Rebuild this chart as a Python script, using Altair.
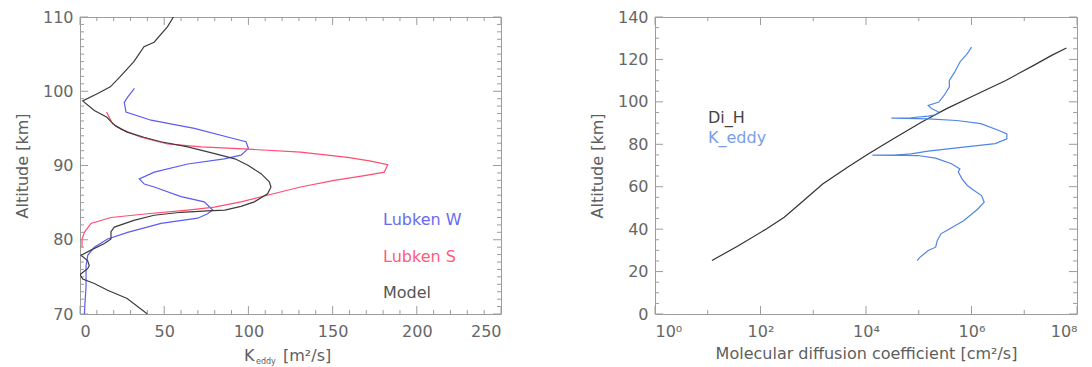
import altair as alt
import pandas as pd

FONT = "DejaVu Sans"
FRAME = "#9c9c9c"
TXT = "#5e5e5e"

# ---------------- Left panel: K_eddy [m^2/s] vs altitude [km] ----------------
model_k = [56, 52, 44, 38, 32, 24, 18, 10.5, 1.6, 8.5, 16, 18.4, 21.4, 28, 38, 48, 64, 80, 92, 100,
           107.5, 112.4, 113.4, 111.4, 103.5, 95.6, 86, 75.8, 60, 44, 32, 20.4, 18.4, 18.4, 14.5, 6.5,
           0.6, 4.5, 5.5, 4.5, 1.6, 0, 1.6, 8.5, 16.4, 28, 40]
model_alt = [110.2, 108.7, 106.6, 106, 104, 102, 100.6, 99.7, 98.7, 97.4, 96.5, 95.9, 95.3, 94.5, 93.8,
             93.2, 92.5, 91.6, 90.9, 90, 88.9, 87.8, 87.1, 86.2, 85.1, 84.5, 84.0, 83.9, 83.7, 83.3, 82.6,
             81.7, 81.1, 80.1, 79.5, 78.6, 77.9, 77.2, 76.5, 76.1, 75.6, 75.3, 74.7, 74.1, 73.2, 72.1, 70]

lubS_k = [15.8, 19.4, 24.3, 36.2, 52, 71.9, 100, 131, 159, 172.8, 182.7, 180.7, 170.8, 151, 131, 113,
          95.6, 79.8, 64, 40, 18.4, 6.5, 2.6, 1.2, 1.2]
lubS_alt = [97.2, 95.6, 94.9, 93.8, 92.9, 92.5, 92.2, 91.8, 91.1, 90.6, 90.1, 89.1, 88.7, 88.0, 87.1,
            86.1, 85.1, 84.4, 84.0, 83.5, 83.0, 82.2, 81.0, 80.1, 79.0]

lubW_k = [32.3, 28.3, 26.3, 27.3, 42.2, 67.9, 91.6, 98.6, 100, 95.6, 85.7, 64, 44.1, 35.2, 38.2, 44.1,
          60, 73.8, 78.8, 75.8, 69.9, 48.1, 28.3, 16.4, 8.5, 4.6, 3.6, 3.6, 3.0, 2.6]
lubW_alt = [100.4, 99.2, 98.5, 97.2, 96.1, 95.0, 93.6, 93.2, 92.3, 91.4, 90.9, 90.2, 89.1, 88.2, 87.5,
            87.1, 85.8, 85.1, 84.0, 83.5, 82.9, 82.2, 81.0, 80.1, 79.0, 77.9, 76.5, 73.8, 71.6, 70.0]

left_series = ["Lubken W", "Lubken S", "Model"]
left_colors = ["#5c5cf2", "#ff4d70", "#3c3c3c"]
left_label_colors = ["#6a6af2", "#ff5a7c", "#555555"]
left_xticks = [0, 50, 100, 150, 200, 250]
left_yticks = [70, 80, 90, 100, 110]

# ---------------- Right panel: diffusion coefficient [cm^2/s] vs altitude ----------------
dih_d = [12.0, 38, 129, 282, 603, 1510, 4470, 11200, 33100, 112000, 331000, 1.12e6, 4.47e6, 1.51e7,
         3.31e7, 6.3e7]
dih_alt = [25.2, 32.2, 40.1, 45.6, 52.7, 61.3, 69.2, 75.5, 82.6, 90.4, 96.7, 103.0, 110.1, 117.2,
           121.9, 125.4]

keddy_d = [93300, 105000, 151000, 209000, 224000, 263000, 380000, 708000, 1.32e6, 1.74e6,
           1.55e6, 1.12e6, 832000, 661000, 562000, 603000, 417000, 209000, 95500, 33100,
           13200, 33100, 70800, 151000, 708000, 2.82e6, 4.68e6, 4.68e6, 3.31e6, 1.51e6,
           525000, 151000, 33100, 30200, 70800, 151000, 209000, 240000, 178000, 151000,
           240000, 302000, 380000, 380000, 479000, 603000, 832000, 1.0e6]
keddy_alt = [25.2, 26.7, 29.9, 31.5, 34.6, 37.8, 40.1, 44.0, 49.5, 52.7,
             55.8, 58.2, 60.6, 63.7, 66.9, 68.4, 70.8, 73.5, 74.7, 74.9,
             74.9, 74.8, 75.5, 76.8, 78.7, 80.3, 82.6, 84.9, 86.5, 89.7,
             91.2, 92.0, 92.3, 92.3, 92.5, 93.3, 93.9, 95.2, 96.7, 98.3,
             99.9, 103.0, 107.0, 110.1, 114.0, 118.8, 122.7, 125.8]

right_series = ["Di_H", "K_eddy"]
right_colors = ["#333333", "#4f86e6"]
right_label_colors = ["#444444", "#7b9de6"]
right_xticks = [1, 1e2, 1e4, 1e6, 1e8]
right_xminor = [1e1, 1e3, 1e5, 1e7]
right_yticks = [0, 20, 40, 60, 80, 100, 120, 140]

W1, W2, H = 421, 422, 297
MAJ, MNR = 8, 4


def frame_ticks(xspec, yspec, xmaj, xmin, ymaj, ymin, W):
    layers = []
    for vals, L in ((xmaj, MAJ), (xmin, MNR)):
        df = pd.DataFrame({"x": vals})
        layers.append(alt.Chart(df).mark_rule(color=FRAME, strokeWidth=1).encode(
            x=xspec, y=alt.value(H), y2=alt.value(H - L)))
        layers.append(alt.Chart(df).mark_rule(color=FRAME, strokeWidth=1).encode(
            x=xspec, y=alt.value(0), y2=alt.value(L)))
    for vals, L in ((ymaj, MAJ), (ymin, MNR)):
        df = pd.DataFrame({"y": vals})
        layers.append(alt.Chart(df).mark_rule(color=FRAME, strokeWidth=1).encode(
            y=yspec, x=alt.value(0), x2=alt.value(L)))
        layers.append(alt.Chart(df).mark_rule(color=FRAME, strokeWidth=1).encode(
            y=yspec, x=alt.value(W), x2=alt.value(W - L)))
    return layers


def label(text, x, y, color, size=16, baseline="middle"):
    return alt.Chart(pd.DataFrame({"t": [text]})).mark_text(
        align="left", baseline=baseline, font=FONT, fontSize=size, color=color
    ).encode(text="t:N", x=alt.value(x), y=alt.value(y))


def series_line(xs, ys, color, xspec, yspec):
    df = pd.DataFrame({"x": xs, "y": ys, "i": list(range(len(xs)))})
    return alt.Chart(df).mark_line(strokeWidth=1.2, clip=True, color=color).encode(
        x=xspec, y=yspec, order="i:Q")


# ----- left chart -----
X1 = alt.X("x:Q", scale=alt.Scale(domain=[0, 250], nice=False, zero=False),
           axis=alt.Axis(values=left_xticks, title=None))
Y1 = alt.Y("y:Q", scale=alt.Scale(domain=[70, 110], nice=False, zero=False),
           axis=alt.Axis(values=left_yticks, title="Altitude [km]"))

left_layers = frame_ticks(X1, Y1, left_xticks, [v for v in range(0, 251, 10) if v % 50],
                          left_yticks, [v for v in range(70, 111) if v % 10], W1)
left_layers += [
    series_line(lubW_k, lubW_alt, left_colors[0], X1, Y1),
    series_line(lubS_k, lubS_alt, left_colors[1], X1, Y1),
    series_line(model_k, model_alt, left_colors[2], X1, Y1),
]
left_layers += [
    label(left_series[0], 303, 203, left_label_colors[0]),
    label(left_series[1], 303, 240, left_label_colors[1]),
    label(left_series[2], 303, 276, left_label_colors[2]),
    label("K", 164, H + 47, TXT, 16, "alphabetic"),
    label("eddy", 176, H + 50, TXT, 8, "alphabetic"),
    label("[m²/s]", 203, H + 47, TXT, 16, "alphabetic"),
]
left = alt.layer(*left_layers).properties(width=W1, height=H)

# ----- right chart -----
X2 = alt.X("x:Q", scale=alt.Scale(type="log", domain=[1, 1e8], nice=False),
           axis=alt.Axis(values=right_xticks, title="Molecular diffusion coefficient [cm²/s]",
                         labelExpr="'10' + ['⁰','¹','²','³','⁴','⁵','⁶','⁷','⁸'][round(log(datum.value)/LN10)]"))
Y2 = alt.Y("y:Q", scale=alt.Scale(domain=[0, 140], nice=False, zero=False),
           axis=alt.Axis(values=right_yticks, title="Altitude [km]"))

right_layers = frame_ticks(X2, Y2, right_xticks, right_xminor,
                           right_yticks, [v for v in range(0, 141, 5) if v % 20], W2)
right_layers += [
    series_line(dih_d, dih_alt, right_colors[0], X2, Y2),
    series_line(keddy_d, keddy_alt, right_colors[1], X2, Y2),
]
right_layers += [
    label(right_series[0], 53, 101, right_label_colors[0]),
    label(right_series[1], 53, 121, right_label_colors[1]),
]
right = alt.layer(*right_layers).properties(width=W2, height=H)

chart = alt.hconcat(left, right, spacing=86, padding={"left": 5, "top": 0, "right": 0, "bottom": 0}).configure_view(
    stroke=FRAME, strokeWidth=1
).configure_axis(
    domain=False, ticks=False, grid=False,
    labelFont=FONT, labelFontSize=16, labelColor="#666666",
    titleFont=FONT, titleFontSize=16, titleColor=TXT, titleFontWeight="normal",
).configure_axisY(labelPadding=7, titlePadding=12).configure_axisX(labelPadding=9, titlePadding=6)

chart.save("out.html", embed_options={"renderer": "svg", "actions": False})
